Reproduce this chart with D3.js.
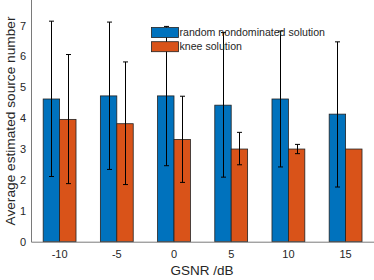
<!DOCTYPE html>
<html><head><meta charset="utf-8">
<script src="https://cdn.jsdelivr.net/npm/d3@7"></script>
<style>body{margin:0;background:#fff;overflow:hidden}svg{display:block}text{font-family:"Liberation Sans",Arial,sans-serif;fill:#262626}</style>
</head><body><svg id="c" width="374" height="280"></svg>
<script>
const categories = ["-10","-5","0","5","10","15"];
const randomMean = [4.62, 4.72, 4.72, 4.42, 4.62, 4.13];
const randomLow  = [2.11, 2.34, 2.46, 2.09, 2.42, 1.77];
const randomHigh = [7.14, 7.11, 6.97, 6.77, 6.82, 6.47];
const kneeMean   = [3.96, 3.82, 3.31, 3.00, 3.00, 3.00];
const kneeLow    = [1.88, 1.85, 1.92, 2.49, 2.85, 3.00];
const kneeHigh   = [6.06, 5.82, 4.71, 3.54, 3.15, 3.00];
const yTicks = [0,1,2,3,4,5,6,7];
const seriesNames = ["random nondominated solution","knee solution"];
const colors = ["#0072BD","#D95319"];

const svg = d3.select("#c");
const x = d3.scaleBand().domain(categories).range([31, 374.2]).paddingInner(0).paddingOuter(0);
const y = d3.scaleLinear().domain([0,8]).range([241.7, -5.4]);
const bw = x.bandwidth()*0.287;

const series = [
  {name: seriesNames[0], mean: randomMean, lo: randomLow, hi: randomHigh, color: colors[0], off: -1},
  {name: seriesNames[1], mean: kneeMean, lo: kneeLow, hi: kneeHigh, color: colors[1], off: 0}
];

series.forEach(s => {
  const g = svg.append("g");
  g.selectAll("rect").data(categories).join("rect")
    .attr("x", (c) => x(c) + x.bandwidth()/2 + s.off*bw)
    .attr("width", bw)
    .attr("y", (c,i) => y(s.mean[i]))
    .attr("height", (c,i) => y(0) - y(s.mean[i]))
    .attr("fill", s.color).attr("stroke", "#222").attr("stroke-width", 0.8);
});

series.forEach(s => {
  const g = svg.append("g").attr("stroke", "#000").attr("stroke-width", 1);
  categories.forEach((c,i) => {
    if (s.hi[i] - s.lo[i] < 0.01) return;
    const cx = Math.round(x(c) + x.bandwidth()/2 + s.off*bw + bw/2) + 0.5;
    g.append("line").attr("x1", cx).attr("x2", cx).attr("y1", y(s.lo[i])).attr("y2", y(s.hi[i]));
    [s.lo[i], s.hi[i]].forEach(v => {
      g.append("line").attr("x1", cx-2.5).attr("x2", cx+2.5).attr("y1", y(v)).attr("y2", y(v));
    });
  });
});

// axes
const yAxis = svg.append("g").attr("transform", "translate(31,0)")
  .call(d3.axisLeft(y).tickValues(yTicks).tickSize(0).tickPadding(5));
yAxis.select(".domain").attr("stroke", "#7a7a7a");
yAxis.selectAll("text").attr("font-size", 11).attr("fill", "#262626").attr("font-family", "Liberation Sans, Arial, sans-serif");

const xAxis = svg.append("g").attr("transform", "translate(0,241.7)")
  .call(d3.axisBottom(x).tickSize(0).tickPadding(9));
xAxis.select(".domain").attr("stroke", "#7a7a7a");
xAxis.selectAll("text").attr("font-size", 11).attr("fill", "#262626").attr("font-family", "Liberation Sans, Arial, sans-serif");

svg.append("text").attr("x", 202).attr("y", 275).attr("text-anchor", "middle").attr("font-size", 13.5).text("GSNR /dB");
svg.append("text").attr("transform", "translate(15,121) rotate(-90)").attr("text-anchor", "middle").attr("font-size", 13.7).text("Average estimated source number");

// legend
const lg = svg.append("g");
series.forEach((s,i) => {
  lg.append("rect").attr("x", 151.5).attr("y", 27.5 + i*14.2).attr("width", 27).attr("height", 10)
    .attr("fill", s.color).attr("stroke", "#222").attr("stroke-width", 0.8);
  lg.append("text").attr("x", 179.5).attr("y", 36 + i*14.2).attr("font-size", 10.6).text(s.name);
});
</script></body></html>
